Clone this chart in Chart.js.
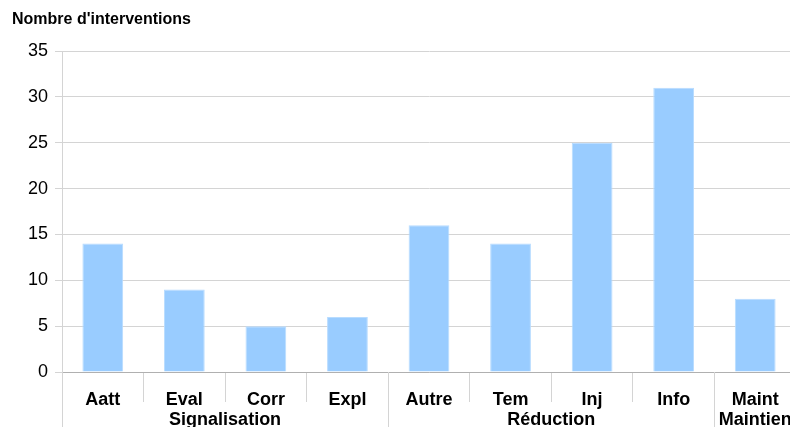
<!DOCTYPE html>
<html>
<head>
<meta charset="utf-8">
<script src="https://cdn.jsdelivr.net/npm/chart.js@4"></script>
<style>
  html, body { margin: 0; padding: 0; background: #fff; overflow: hidden; }
  #wrap { width: 800px; height: 427px; }
</style>
</head>
<body>
<div id="wrap"><canvas id="interChart" width="800" height="427"></canvas></div>
<script>
const categories = ['Aatt', 'Eval', 'Corr', 'Expl', 'Autre', 'Tem', 'Inj', 'Info', 'Maint'];
const interventions = [14, 9, 5, 6, 16, 14, 25, 31, 8];
const groupNames = ['Signalisation', 'Réduction', 'Maintien'];
const groupSizes = [4, 4, 1];
const yTicks = [0, 5, 10, 15, 20, 25, 30, 35];

const FONT = "'Liberation Sans', Arial, sans-serif";
const GRID = '#d4d4d4';

// title + group labels + long separators under the axis
const groupPlugin = {
  id: 'groups',
  afterDraw(chart) {
    const c = chart.ctx;
    const x = chart.scales.x;
    const area = chart.chartArea;
    c.save();
    c.fillStyle = '#000';
    c.font = 'bold 16px ' + FONT;
    c.textAlign = 'left';
    c.textBaseline = 'alphabetic';
    c.fillText("Nombre d'interventions", 12, 24);

    const half = (x.getPixelForValue(1) - x.getPixelForValue(0)) / 2;
    let start = 0;
    c.strokeStyle = GRID;
    c.lineWidth = 1;
    c.font = 'bold 18px ' + FONT;
    c.textAlign = 'center';
    c.textBaseline = 'middle';
    groupSizes.forEach((n, i) => {
      const left = x.getPixelForValue(start) - half;
      const right = x.getPixelForValue(start + n - 1) + half;
      const lx = Math.round(left) + 0.5;
      c.beginPath();
      c.moveTo(lx, area.bottom);
      c.lineTo(lx, chart.height);
      c.stroke();
      c.fillText(groupNames[i], (left + right) / 2, 420);
      start += n;
    });
    c.restore();
  }
};

new Chart(document.getElementById('interChart'), {
  type: 'bar',
  data: {
    labels: categories,
    datasets: [{
      label: "Nombre d'interventions",
      data: interventions,
      backgroundColor: '#99ccff',
      borderColor: '#b8dcff',
      borderWidth: 1,
      barPercentage: 0.5,
      categoryPercentage: 1
    }]
  },
  options: {
    responsive: false,
    animation: false,
    layout: { padding: { top: 51, left: 0, right: 4, bottom: 0 } },
    plugins: {
      legend: { display: false },
      tooltip: { enabled: false },
      title: { display: false }
    },
    scales: {
      y: {
        min: 0,
        max: 35,
        afterBuildTicks: (s) => { s.ticks = yTicks.map(v => ({ value: v })); },
        afterFit: (s) => { s.width = 62; },
        ticks: {
          color: '#000',
          padding: 7,
          font: { family: FONT, size: 18 }
        },
        grid: { color: GRID, tickLength: 7, lineWidth: 1 },
        border: { color: GRID }
      },
      x: {
        afterFit: (s) => { s.height = 55; },
        ticks: {
          color: '#000',
          padding: -13,
          font: { family: FONT, size: 18, weight: 'bold' }
        },
        grid: {
          offset: true,
          drawOnChartArea: false,
          drawTicks: true,
          tickLength: 30,
          color: GRID
        },
        border: { color: '#b0b0b0' }
      }
    }
  },
  plugins: [groupPlugin]
});
</script>
</body>
</html>
